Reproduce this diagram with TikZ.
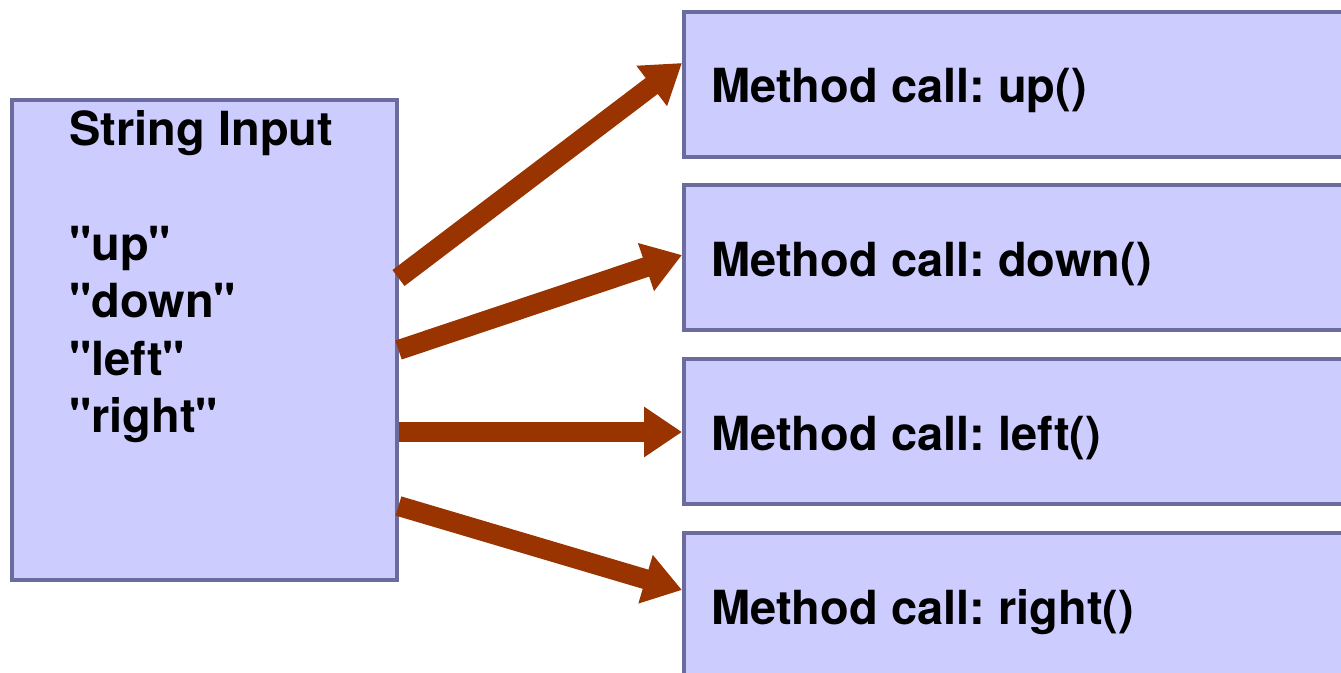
\documentclass[tikz,border=0pt]{standalone}
\usepackage{fontspec}
% plain family: no TeX ligature mapping, so " stays a straight quote
\newfontfamily\heros{TeX Gyre Heros}
\usetikzlibrary{arrows.meta,positioning}
\definecolor{boxfill}{HTML}{CCCCFF}
\definecolor{boxline}{HTML}{6B6B9E}
\definecolor{flow}{HTML}{993300}
\frenchspacing
\tikzset{
  panel/.style={draw=boxline, fill=boxfill, line width=3.5pt, rectangle,
    inner sep=0pt, anchor=north west},
  srcpanel/.style={panel, minimum width=385pt, minimum height=480pt},
  callpanel/.style={panel, minimum width=680pt, minimum height=145pt},
  label/.style={anchor=base west, inner sep=0pt,
    font=\heros\bfseries\fontsize{47}{57.5}\selectfont},
  flowarrow/.style={draw=flow, line width=20pt,
    -{Triangle[length=38pt,width=48pt]}},
}
\begin{document}
\begin{tikzpicture}[x=1pt,y=-1pt]
  \useasboundingbox (0,0) rectangle (1341,672);
  \clip (0,0) rectangle (1341,672);
  \fill[white] (0,0) rectangle (1341,672);

  % input panel
  \node[srcpanel] (src) at (10,98) {};
  \node[label] (title) at (69,145) {String Input};
  \node[label, align=left, anchor=north west] (strings) at (69,226)
    {"up"\\"down"\\"left"\\"right"};

  % method-call panels
  \node[callpanel] (up)    at (682,10)  {};
  \node[callpanel] (down)  at (682,183) {};
  \node[callpanel] (left)  at (682,357) {};
  \node[callpanel] (right) at (682,531) {};

  \node[label] (upt)    at (711,102) {Method call: up()};
  \node[label] (downt)  at (711,276) {Method call: down()};
  \node[label] (leftt)  at (711,450) {Method call: left()};
  \node[label] (rightt) at (711,624) {Method call: right()};

  % dispatch arrows
  \draw[flowarrow] ([yshift=-180pt]src.north east) -- ([yshift=-53pt]up.north west);
  \draw[flowarrow] ([yshift=-252pt]src.north east) -- ([yshift=-72pt]down.north west);
  \draw[flowarrow] ([yshift=-334pt]src.north east) -- ([yshift=-75pt]left.north west);
  \draw[flowarrow] ([yshift=-408pt]src.north east) -- ([yshift=-59pt]right.north west);
\end{tikzpicture}
\end{document}
